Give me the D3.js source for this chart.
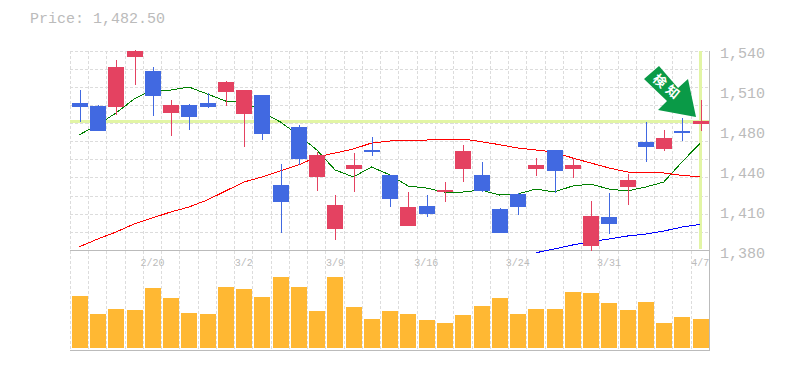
<!DOCTYPE html>
<html>
<head>
<meta charset="utf-8">
<script src="https://cdn.jsdelivr.net/npm/d3@7"></script>
<style>
    body { margin: 0; background: #fff; }
    text { font-family: "Liberation Mono", monospace; fill: #bbb; }
</style>
</head>
<body>
<div id="chart"></div>
<script>
let dates = ['2/14', '2/17', '2/18', '2/19', '2/20', '2/25', '2/26', '2/27', '2/28', '3/2',
    '3/3', '3/4', '3/5', '3/6', '3/9', '3/10', '3/11', '3/12', '3/13', '3/16',
    '3/17', '3/18', '3/19', '3/23', '3/24', '3/25', '3/26', '3/27', '3/30', '3/31',
    '4/1', '4/2', '4/3', '4/6', '4/7'];

let opens = [1498.3, 1495.9, 1495.1, 1535.2, 1524, 1490.3, 1496.7, 1498.3, 1507.1, 1489.5,
    1504.7, 1432.5, 1479, 1439, 1397.2, 1445.4, 1460.6, 1440.6, 1399.6, 1415.7,
    1426.9, 1445.4, 1440.6, 1413.3, 1425.3, 1445.4, 1460.6, 1445.4, 1383.6, 1406.9,
    1430.9, 1467, 1461.4, 1475.8, 1481.5];
let closes = [1495.1, 1475.8, 1527.2, 1540, 1503.9, 1496.7, 1487.1, 1495.1, 1515.1, 1508.7,
    1473.4, 1418.9, 1453.4, 1456.6, 1416.5, 1448.6, 1459, 1421.3, 1414.9, 1409.3,
    1428.5, 1459.8, 1427.7, 1394, 1414.9, 1448.6, 1443.8, 1448.6, 1407.7, 1401.3,
    1436.5, 1463, 1470.2, 1474.2, 1483.9];
let highs = [1508.7, 1496.7, 1532.8, 1540.8, 1527.2, 1500.7, 1497.5, 1506.3, 1515.9, 1508.7,
    1504.7, 1449.4, 1480.7, 1459, 1424.5, 1458.2, 1471, 1440.6, 1426.9, 1424.5,
    1434.9, 1464.6, 1451, 1414.1, 1426.1, 1454.2, 1460.6, 1454.2, 1419.7, 1426.1,
    1441.4, 1483.1, 1476.6, 1486.3, 1500.7];
let lows = [1483.1, 1475.8, 1488.7, 1512.7, 1487.9, 1471.8, 1476.6, 1494.3, 1495.9, 1463,
    1468.6, 1394, 1448.6, 1427.7, 1388.4, 1426.9, 1455.8, 1414.9, 1399.6, 1406.9,
    1418.9, 1434.9, 1426.9, 1394, 1408.5, 1439.8, 1426.1, 1438.1, 1379.6, 1393.2,
    1416.5, 1451, 1459.8, 1467.8, 1475.8];
let volumes = [52, 34, 39, 38, 60, 50, 35, 34, 61, 59,
    51, 71, 61, 37, 71, 41, 29, 37, 34, 28,
    25, 33, 42, 50, 34, 39, 39, 56, 55, 45,
    38, 46, 25, 31, 29];

let maShort = [1472.9, 1480.7, 1490.3, 1501.5, 1508.7, 1508.7, 1511.1, 1505.5, 1499.9, 1499.9,
    1491.1, 1483.1, 1472.6, 1460.6, 1444.6, 1439, 1447, 1440.6, 1431.7, 1430.1,
    1426.9, 1426.9, 1428.5, 1424.5, 1425.3, 1429.3, 1426.9, 1431.7, 1433.3, 1429.3,
    1427.7, 1430.9, 1434.9, 1451, 1466.2];
let maMid = [1383, 1389.2, 1394.8, 1401.3, 1406.1, 1410.9, 1414.9, 1420.5, 1427.7, 1434.9,
    1439, 1443.8, 1448.6, 1455, 1458.2, 1461.4, 1466.2, 1467.8, 1468.6, 1468.6,
    1468.9, 1469.4, 1467.3, 1464.9, 1462.2, 1460.6, 1459, 1454.2, 1450.2, 1446.2,
    1443, 1442.2, 1442.2, 1440.2, 1439.2];
let maLong = [null, null, null, null, null, null, null, null, null, null,
    null, null, null, null, null, null, null, null, null, null,
    null, null, null, null, null, 1378.2, 1381.2, 1384.4, 1387, 1389.2,
    1391.6, 1393.2, 1395.6, 1398.8, 1401];

let priceTicks = [1380, 1412, 1444, 1476, 1508, 1540];
let priceLabels = ['1,380', '1,410', '1,440', '1,480', '1,510', '1,540'];
let dateTicks = ['2/20', '3/2', '3/9', '3/16', '3/24', '3/31', '4/7'];
let lastPrice = 1482.5;

let width = 785,
    height = 370,
    plotLeft = 70,
    plotRight = 710,
    plotTop = 51,
    priceBottom = 250.5,
    plotBottom = 350,
    volumeBase = 348;

let svg = d3.select('#chart').append('svg')
    .attr('width', width)
    .attr('height', height)
    .style('display', 'block');

let xScale = d3.scaleBand()
    .domain(dates)
    .range([70.3, 709.4]);

let yScale = d3.scaleLinear()
    .domain([1380, 1540])
    .range([priceBottom, plotTop]);

let volScale = d3.scaleLinear()
    .domain([0, 71])
    .range([volumeBase, 277]);

let xMid = d => xScale(d) + xScale.step() / 2;
let barLeft = d => Math.round(xScale(d) + 1.5);

// grid
let grid_g = svg.append('g')
    .attr('stroke', '#dcdcdc')
    .attr('stroke-dasharray', '3,2')
    .attr('fill', 'none');

grid_g.selectAll('.hgrid')
    .data(d3.range(11))
    .join('line')
    .attr('class', 'hgrid')
    .attr('x1', plotLeft)
    .attr('x2', plotRight)
    .attr('y1', i => Math.floor(plotTop + i * (priceBottom - plotTop) / 11) + 0.5)
    .attr('y2', i => Math.floor(plotTop + i * (priceBottom - plotTop) / 11) + 0.5);

grid_g.selectAll('.vgrid')
    .data(dates)
    .join('line')
    .attr('class', 'vgrid')
    .attr('x1', d => Math.floor(xScale(d)) + 0.5)
    .attr('x2', d => Math.floor(xScale(d)) + 0.5)
    .attr('y1', plotTop)
    .attr('y2', plotBottom);

// last price cross
svg.append('line')
    .attr('x1', plotLeft)
    .attr('x2', plotRight)
    .attr('y1', Math.floor(yScale(lastPrice)) - 0.5)
    .attr('y2', Math.floor(yScale(lastPrice)) - 0.5)
    .attr('stroke', '#e2f5a5')
    .attr('stroke-width', 3);

svg.append('line')
    .attr('x1', Math.floor(xMid(dates[dates.length - 1])) + 0.5)
    .attr('x2', Math.floor(xMid(dates[dates.length - 1])) + 0.5)
    .attr('y1', plotTop)
    .attr('y2', 249)
    .attr('stroke', '#e2f5a5')
    .attr('stroke-width', 3);

// frame
svg.append('path')
    .attr('d', `M${plotLeft},${priceBottom}H${plotRight}M${plotLeft},${plotBottom + 0.5}H${plotRight}M${plotRight - 0.5},${plotTop}V${plotBottom}`)
    .attr('fill', 'none')
    .attr('stroke', '#bbb')
    .attr('stroke-width', 1);

// moving averages
let maLine = d3.line()
    .defined(d => d.v !== null)
    .x(d => xMid(d.date))
    .y(d => yScale(d.v));

[[maShort, 'green'], [maMid, 'red'], [maLong, 'blue']].forEach(([values, color]) => {
    svg.append('path')
        .datum(values.map((v, i) => ({date: dates[i], v: v})))
        .attr('d', maLine)
        .attr('fill', 'none')
        .attr('stroke', color)
        .attr('stroke-width', 1)
        .attr('shape-rendering', 'crispEdges');
});

// candles
let candles = dates.map((date, i) => ({date: date, o: opens[i], c: closes[i], h: highs[i], l: lows[i]}));
let candleColor = d => d.c > d.o ? '#e44261' : '#4169e1';

let candle_g = svg.append('g')
    .attr('shape-rendering', 'crispEdges');

candle_g.selectAll('.wick')
    .data(candles)
    .join('line')
    .attr('class', 'wick')
    .attr('x1', d => barLeft(d.date) + 8.5)
    .attr('x2', d => barLeft(d.date) + 8.5)
    .attr('y1', d => Math.round(yScale(d.h)))
    .attr('y2', d => Math.round(yScale(d.l)))
    .attr('stroke', candleColor);

candle_g.selectAll('.body')
    .data(candles)
    .join('rect')
    .attr('class', 'body')
    .attr('x', d => barLeft(d.date))
    .attr('width', 16)
    .attr('y', d => Math.round(yScale(Math.max(d.o, d.c))))
    .attr('height', d => Math.round(yScale(Math.min(d.o, d.c))) - Math.round(yScale(Math.max(d.o, d.c))))
    .attr('fill', candleColor);

// volume
svg.append('g')
    .attr('shape-rendering', 'crispEdges')
    .selectAll('rect')
    .data(volumes)
    .join('rect')
    .attr('x', (d, i) => barLeft(dates[i]))
    .attr('width', 16)
    .attr('y', d => volScale(d))
    .attr('height', d => volumeBase - volScale(d))
    .attr('fill', '#ffb833');

// axes
let yAxis = d3.axisRight(yScale)
    .tickValues(priceTicks)
    .tickFormat((d, i) => priceLabels[i])
    .tickSize(0)
    .tickPadding(10);

let yAxis_g = svg.append('g')
    .attr('transform', `translate(${plotRight}, 2)`)
    .call(yAxis);

yAxis_g.select('.domain').remove();
yAxis_g.selectAll('text')
    .style('font-size', '15px')
    .style('font-family', '"Liberation Mono", monospace');

let xAxis = d3.axisBottom(xScale)
    .tickValues(dateTicks)
    .tickSize(0)
    .tickPadding(8);

let xAxis_g = svg.append('g')
    .attr('transform', `translate(0, ${priceBottom})`)
    .call(xAxis);

xAxis_g.select('.domain').remove();
xAxis_g.selectAll('text')
    .style('font-size', '10px')
    .style('font-family', '"Liberation Mono", monospace');

svg.append('text')
    .attr('x', 30)
    .attr('y', 23)
    .style('font-size', '15px')
    .text('Price: ' + d3.format(',.2f')(lastPrice));

// signal arrow
svg.append('path')
    .attr('d', 'M659,66L644,79L667,101L658,110L696,117L688,79L678,88Z')
    .attr('fill', '#0a9a47');

svg.append('text')
    .attr('transform', 'translate(667, 88.5) rotate(40)')
    .attr('text-anchor', 'middle')
    .attr('dominant-baseline', 'middle')
    .style('font-family', '"Noto Sans CJK JP"')
    .style('font-size', '13px')
    .style('font-weight', 'bold')
    .style('letter-spacing', '4px')
    .style('fill', '#fff')
    .text('検知');
</script>
</body>
</html>
